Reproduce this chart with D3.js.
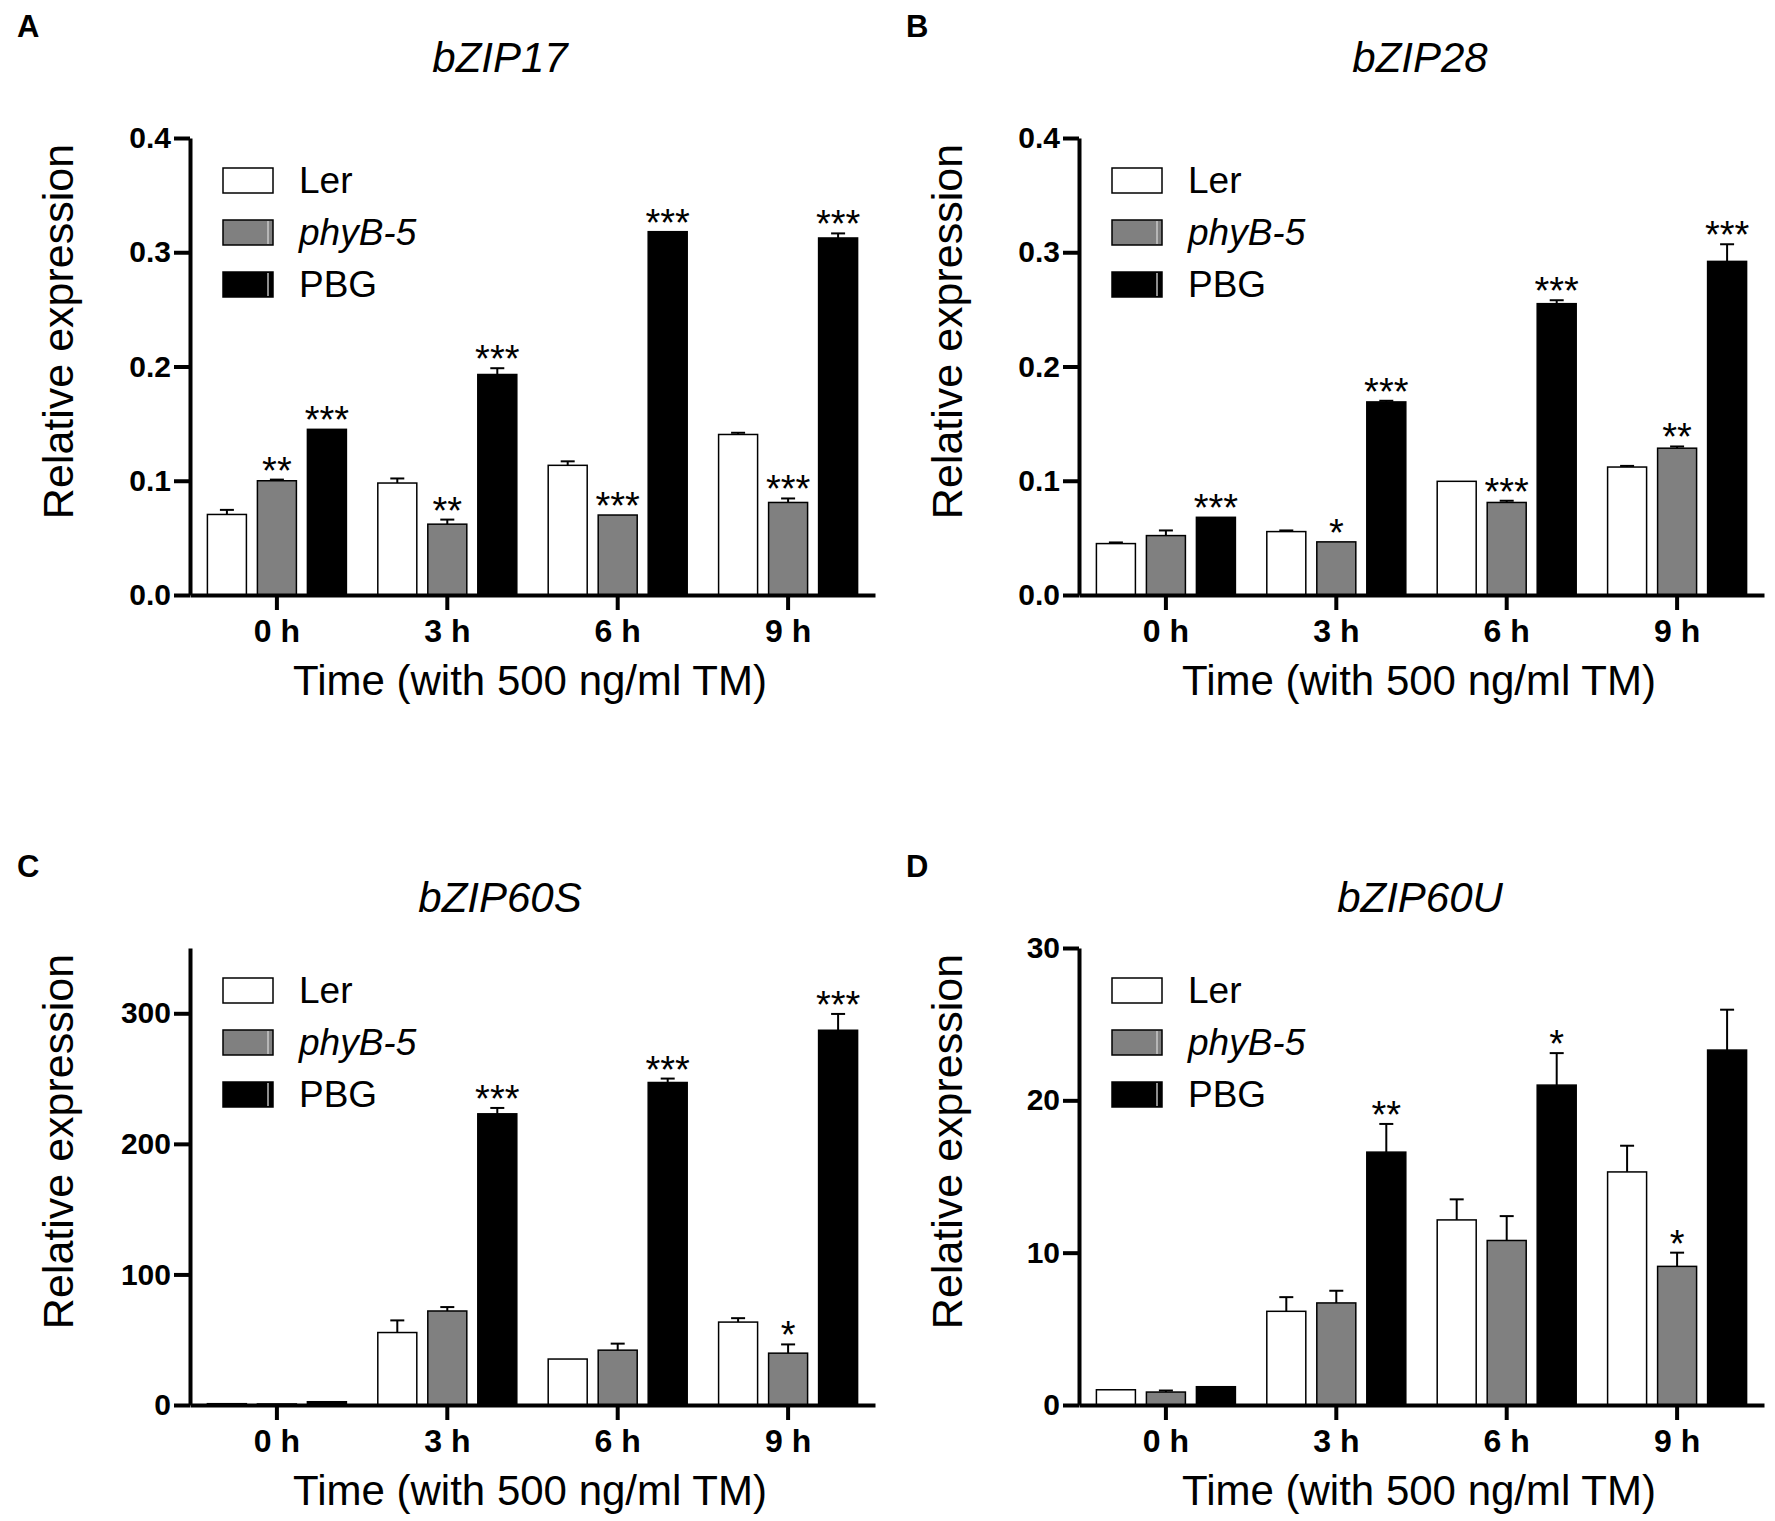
<!DOCTYPE html>
<html>
<head>
<meta charset="utf-8">
<script src="https://cdn.jsdelivr.net/npm/d3@7"></script>
<style>
  body { margin: 0; background: #fff; }
  svg { display: block; font-family: "Liberation Sans", Arial, sans-serif; }
</style>
</head>
<body>
<div id="fig"></div>
<script>
// time points and genotypes
const groups = ["0 h", "3 h", "6 h", "9 h"];
const series = ["Ler", "phyB-5", "PBG"];
const fills = ["#ffffff", "#808080", "#000000"];

// bZIP17 (rows: Ler, phyB-5, PBG)
const bzip17Mean = [[0.0705, 0.098, 0.1135, 0.1405], [0.100, 0.062, 0.070, 0.081], [0.145, 0.193, 0.318, 0.3125]];
const bzip17Err  = [[0.004, 0.004, 0.0035, 0.0015], [0.001, 0.004, 0, 0.0035], [0, 0.0055, 0, 0.004]];
const bzip17Sig  = [["", "", "", ""], ["**", "**", "***", "***"], ["***", "***", "***", "***"]];

// bZIP28
const bzip28Mean = [[0.045, 0.0555, 0.0995, 0.112], [0.052, 0.0465, 0.081, 0.1285], [0.068, 0.169, 0.255, 0.292]];
const bzip28Err  = [[0.001, 0.001, 0, 0.001], [0.0045, 0, 0.0015, 0.0015], [0, 0.001, 0.003, 0.015]];
const bzip28Sig  = [["", "", "", ""], ["", "*", "***", "**"], ["***", "***", "***", "***"]];

// bZIP60S
const bzip60sMean = [[1, 55.5, 35.2, 63.5], [0.8, 72, 42, 39.7], [2.5, 223, 247, 287]];
const bzip60sErr  = [[0, 9.3, 0, 3], [0, 3, 5, 6.7], [0, 4.5, 3, 12.5]];
const bzip60sSig  = [["", "", "", ""], ["", "", "", "*"], ["", "***", "***", "***"]];

// bZIP60U
const bzip60uMean = [[1.0, 6.15, 12.15, 15.3], [0.85, 6.7, 10.8, 9.1], [1.2, 16.6, 21.0, 23.3]];
const bzip60uErr  = [[0, 0.93, 1.35, 1.72], [0.1, 0.8, 1.6, 0.9], [0, 1.85, 2.1, 2.65]];
const bzip60uSig  = [["", "", "", ""], ["", "", "", "*"], ["", "**", "*", ""]];

// y axis ticks
const ticks17 = [0, 0.1, 0.2, 0.3, 0.4];
const ticks28 = [0, 0.1, 0.2, 0.3, 0.4];
const ticks60s = [0, 100, 200, 300];
const ticks60u = [0, 10, 20, 30];

const xTitle = "Time (with 500 ng/ml TM)";
const yTitle = "Relative expression";

const panels = [
  { letter: "A", title: "bZIP17", mean: bzip17Mean, err: bzip17Err, sig: bzip17Sig, ticks: ticks17, top: 0.4, fmt: ".1f", ox: 0, oy: 0, hy: 0 },
  { letter: "B", title: "bZIP28", mean: bzip28Mean, err: bzip28Err, sig: bzip28Sig, ticks: ticks28, top: 0.4, fmt: ".1f", ox: 889, oy: 0, hy: 0 },
  { letter: "C", title: "bZIP60S", mean: bzip60sMean, err: bzip60sErr, sig: bzip60sSig, ticks: ticks60s, top: 350, fmt: "d", ox: 0, oy: 810, hy: 840 },
  { letter: "D", title: "bZIP60U", mean: bzip60uMean, err: bzip60uErr, sig: bzip60uSig, ticks: ticks60u, top: 30, fmt: "d", ox: 889, oy: 810, hy: 840 }
];

const W = 1775, H = 1521;
const svg = d3.select("#fig").append("svg")
  .attr("width", W).attr("height", H);

svg.append("rect").attr("width", W).attr("height", H).attr("fill", "#fff");

const axisLeft = 190, axisRight = 875, base = 595, plotH = 457;

panels.forEach(p => {
  const g = svg.append("g").attr("transform", `translate(${p.ox},${p.oy})`);
  const h = svg.append("g").attr("transform", `translate(${p.ox},${p.hy})`);

  // panel letter and gene title
  h.append("text").attr("x", 17).attr("y", 37)
    .attr("font-size", 31).attr("font-weight", "bold").text(p.letter);
  h.append("text").attr("x", 500 + (p.ox ? 31 : 0)).attr("y", 72)
    .attr("text-anchor", "middle").attr("font-size", 42).attr("font-style", "italic")
    .text(p.title);

  const x0 = d3.scaleBand().domain(groups).range([axisLeft, axisRight]).paddingInner(0).paddingOuter(0.01);
  const x1 = d3.scaleBand().domain(series)
    .range([x0.bandwidth() / 2 - 75, x0.bandwidth() / 2 + 75])
    .paddingInner(0.22).paddingOuter(0.11);
  const y = d3.scaleLinear().domain([0, p.top]).range([base, base - plotH]);

  // bars
  const rows = [];
  groups.forEach((grp, gi) => {
    series.forEach((s, si) => {
      rows.push({ grp, s, si, v: p.mean[si][gi], e: p.err[si][gi], star: p.sig[si][gi] });
    });
  });

  const bar = g.selectAll(".bar").data(rows).enter().append("g")
    .attr("transform", d => `translate(${x0(d.grp) + x1(d.s)},0)`);

  // error bars (upper only)
  bar.filter(d => d.e > 0).append("line")
    .attr("x1", x1.bandwidth() / 2).attr("x2", x1.bandwidth() / 2)
    .attr("y1", d => y(d.v)).attr("y2", d => y(d.v + d.e))
    .attr("stroke", "#000").attr("stroke-width", 2);
  bar.filter(d => d.e > 0).append("line")
    .attr("x1", x1.bandwidth() / 2 - 7).attr("x2", x1.bandwidth() / 2 + 7)
    .attr("y1", d => y(d.v + d.e)).attr("y2", d => y(d.v + d.e))
    .attr("stroke", "#000").attr("stroke-width", 2);

  bar.append("rect")
    .attr("x", 0).attr("width", x1.bandwidth())
    .attr("y", d => y(d.v)).attr("height", d => base - y(d.v))
    .attr("fill", d => fills[d.si]).attr("stroke", "#000").attr("stroke-width", 1.5);

  // significance stars
  bar.filter(d => d.star).append("text")
    .attr("x", x1.bandwidth() / 2).attr("y", d => y(d.v + d.e) + 4)
    .attr("text-anchor", "middle").attr("font-size", 38)
    .text(d => d.star);

  // y axis
  const ya = g.append("g").attr("transform", `translate(${axisLeft},0)`)
    .call(d3.axisLeft(y).tickValues(p.ticks).tickFormat(d3.format(p.fmt))
      .tickSize(16).tickSizeOuter(0).tickPadding(3));
  ya.select(".domain").attr("stroke-width", 4);
  ya.selectAll(".tick line").attr("stroke-width", 4);
  ya.selectAll(".tick text").attr("font-size", 30).attr("font-weight", "bold")
    .attr("font-family", "Liberation Sans, Arial, sans-serif").attr("fill", "#000");

  // x axis
  const xa = g.append("g").attr("transform", `translate(0,${base})`)
    .call(d3.axisBottom(x0).tickSize(15).tickSizeOuter(0).tickPadding(9));
  xa.select(".domain").attr("stroke-width", 4);
  xa.selectAll(".tick line").attr("stroke-width", 4);
  xa.selectAll(".tick text").attr("font-size", 32).attr("font-weight", "bold")
    .attr("font-family", "Liberation Sans, Arial, sans-serif").attr("fill", "#000");

  // axis titles
  g.append("text").attr("x", 530).attr("y", base + 100)
    .attr("text-anchor", "middle").attr("font-size", 42).text(xTitle);
  g.append("text")
    .attr("transform", `translate(73,${base - plotH / 2 - 35}) rotate(-90)`)
    .attr("text-anchor", "middle").attr("font-size", 43).text(yTitle);

  // legend
  const lg = g.append("g").attr("transform", `translate(${axisLeft + 33},${base - plotH + 30})`);
  series.forEach((s, i) => {
    const row = lg.append("g").attr("transform", `translate(0,${i * 52})`);
    row.append("rect").attr("width", 50).attr("height", 25)
      .attr("fill", fills[i]).attr("stroke", "#000").attr("stroke-width", 1.5);
    if (i > 0) {
      row.append("line").attr("x1", 45).attr("x2", 45).attr("y1", 1).attr("y2", 24)
        .attr("stroke", i === 1 ? "#c8c8c8" : "#bbbbbb").attr("stroke-width", 1.5);
    }
    row.append("text").attr("x", 76).attr("y", 25)
      .attr("font-size", 37).attr("font-style", i === 1 ? "italic" : "normal")
      .text(s);
  });
});
</script>
</body>
</html>
